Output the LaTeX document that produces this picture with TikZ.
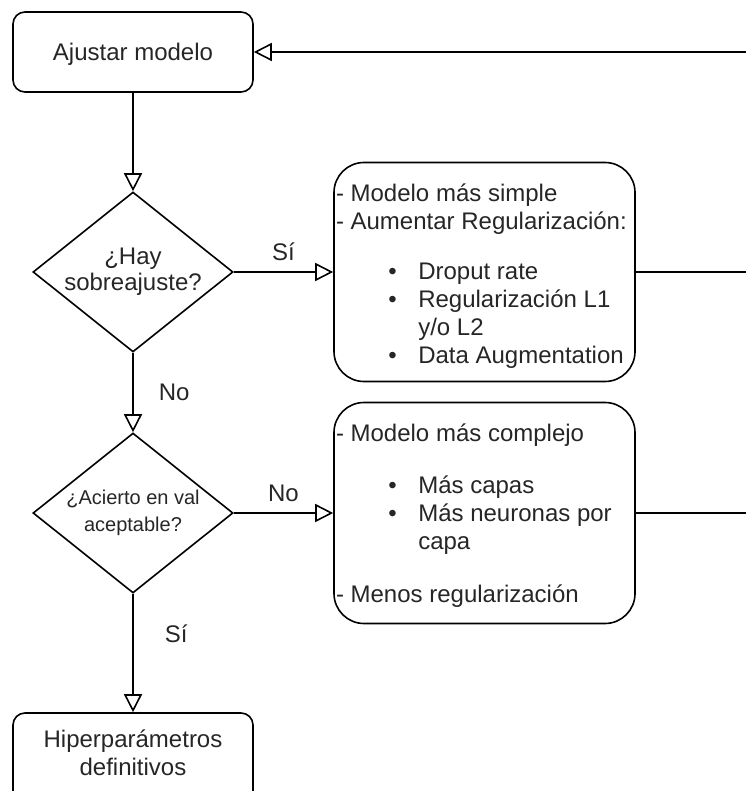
\documentclass[tikz,border=0pt]{standalone}
\usepackage{fontspec}
\setmainfont{Liberation Sans}
\usepackage{tikz}
\usetikzlibrary{calc,arrows.meta,shapes.geometric}
\def\vineta#1{\hspace*{56.5pt}\makebox[0pt]{\textbullet}\hspace*{25.8pt}#1}
\def\sigue#1{\hspace*{82.3pt}#1}
\tikzset{
	caja/.style={draw, rounded corners=12pt, minimum width=240pt, minimum height=80pt, inner sep=0pt, align=center, text=black!85, font=\fontsize{24}{27.5}\selectfont},
	bloque/.style={draw, rounded corners=30pt, minimum width=301pt, inner sep=0pt},
	rombo/.style={draw, diamond, minimum width=200pt, minimum height=160pt, inner sep=0pt},
	rombotxt/.style={align=center, inner sep=0pt, text=black!85},
	lista/.style={anchor=north west, align=left, inner sep=0pt, text=black!85, font=\fontsize{24}{28}\selectfont},
	etiqueta/.style={inner sep=0pt, text=black!85, font=\fontsize{24}{28}\selectfont},
	flecha/.style={-{Triangle[open, length=18pt, width=18pt]}}
}

\begin{document}
\begin{tikzpicture}[x=1pt, y=-1pt, line width=1.6pt]
			%%%%% START %%%%%
			\useasboundingbox (0, 0) rectangle (745, 791);
			
			\node[caja, text depth=0pt] (ajustar) at (133, 52) {Ajustar modelo};
			\node[rombo, label={[rombotxt, font=\fontsize{24}{26}\selectfont]center:¿Hay\\sobreajuste?}] (sobre) at (133, 272) {};
			\node[rombo, label={[rombotxt, font=\fontsize{20}{26.5}\selectfont]center:¿Acierto en val\\aceptable?}] (acierto) at (133, 513) {};
			% runs off the bottom of the picture
			\node[caja, minimum height=100pt, label={[rombotxt, font=\fontsize{24}{27.5}\selectfont, yshift=10pt]center:Hiperparámetros\\definitivos}] (final) at (133, 763) {};
			
			\node[bloque, minimum height=219pt] (simple) at (484.5, 272) {};
			\node[bloque, minimum height=221pt] (complejo) at (484.5, 513) {};
			
			\node[lista] (simpletxt) at ($(simple.north west)+(2, 21)$) {- Modelo más simple\\- Aumentar Regularización:\\[22pt]
				\vineta{Droput rate}\\\vineta{Regularización L1}\\\sigue{y/o L2}\\\vineta{Data Augmentation}};
			\node[lista] (complejotxt) at ($(complejo.north west)+(2, 21)$) {- Modelo más complejo\\[24pt]
				\vineta{Más capas}\\\vineta{Más neuronas por}\\\sigue{capa}\\[25pt]- Menos regularización};
			
			% lines leaving the picture on the right
			\coordinate (vuelta) at (750, 52);
			\coordinate (salida1) at (750, 272);
			\coordinate (salida2) at (750, 513);
			
			\draw[flecha] (vuelta) -- (ajustar);
			\draw[flecha] (ajustar) -- (sobre);
			\draw[flecha] (sobre) -- node[etiqueta, above=10pt] {Sí} (simple);
			\draw[flecha] (sobre) -- node[etiqueta, right=25pt] {No} (acierto);
			\draw[flecha] (acierto) -- node[etiqueta, above=10pt] {No} (complejo);
			\draw[flecha] (acierto) -- node[etiqueta, right=31pt, pos=0.34] {Sí} (final);
			\draw (simple) -- (salida1);
			\draw (complejo) -- (salida2);
			
			%%%%% END %%%%%
		\end{tikzpicture}
\end{document}
